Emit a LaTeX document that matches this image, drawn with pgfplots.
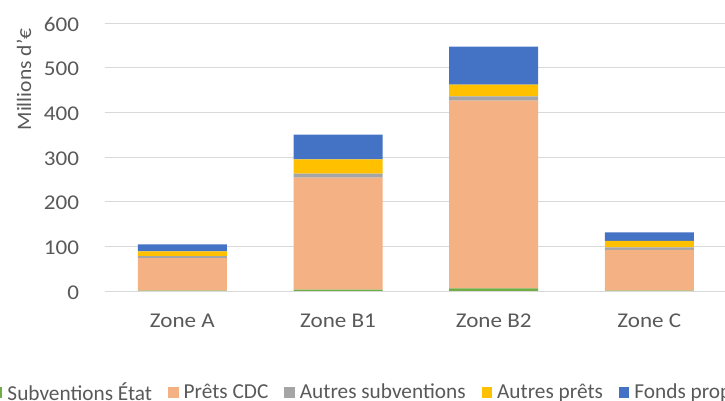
\documentclass[border=0pt]{standalone}
\usepackage{pgfplots}
\pgfplotsset{compat=1.18}
\usepackage{fontspec}
\setmainfont{Carlito}
\definecolor{cgreen}{HTML}{70AD47}
\definecolor{cpink}{HTML}{F4B183}
\definecolor{cgray}{HTML}{A5A5A5}
\definecolor{cyellow}{HTML}{FFC000}
\definecolor{cblue}{HTML}{4472C4}
\definecolor{ctext}{HTML}{595959}
\definecolor{cgrid}{HTML}{D9D9D9}
\begin{document}
\begin{tikzpicture}[font=\fontsize{21bp}{25bp}\selectfont]
\useasboundingbox (0,0) rectangle (725bp,401bp);
\clip (0,0) rectangle (725bp,401bp);
\begin{axis}[
  at={(104.5bp,110bp)}, anchor=south west,
  scale only axis, width=622.7bp, height=268bp,
  ybar stacked, bar width=89bp,
  xmin=-0.5, xmax=3.5, ymin=0, ymax=600,
  xtick=data, xticklabels={Zone A, Zone B1, Zone B2, Zone C},
  ytick={0,100,...,600},
  axis line style={draw=none},
  major tick length=0pt,
  ymajorgrids, grid style={draw=cgrid, line width=0.9bp},
  /pgf/number format/assume math mode=true,
  tick label style={text=ctext, font=\fontsize{21bp}{25bp}\selectfont, xscale=1.1},
  yticklabel style={anchor=east, inner sep=0pt, xshift=-23bp, yshift=-1.5bp},
  xticklabel style={anchor=center, inner sep=0pt, yshift=-30bp},
  legend columns=5,
  legend style={draw=none, fill=none, inner sep=0pt, outer sep=0pt,
    text=ctext, at={(-0.1807,-0.3769)}, anchor=west,
    font=\fontsize{21.3bp}{25bp}\selectfont,
    nodes={inner sep=0pt},
    /tikz/every even column/.append style={column sep=16bp},
    /tikz/every odd column/.append style={column sep=5bp}},
  legend image code/.code={\fill[#1] (0bp,-5.5bp) rectangle (10.5bp,5bp);},
  legend cell align=left,
]
\addplot[fill=cgreen, draw=none] coordinates {(0,1) (1,3) (2,6) (3,1)};
\addplot[fill=cpink, draw=none] coordinates {(0,72.5) (1,251) (2,420) (3,91)};
\addplot[fill=cgray, draw=none] coordinates {(0,4.5) (1,9) (2,10) (3,5.5)};
\addplot[fill=cyellow, draw=none] coordinates {(0,10.6) (1,31.5) (2,26) (3,15)};
\addplot[fill=cblue, draw=none] coordinates {(0,15.7) (1,55.5) (2,85) (3,18.6)};
\legend{Subventions État, Prêts CDC, Autres subventions, Autres prêts, Fonds propres}
\end{axis}
\node[rotate=90, text=ctext, anchor=center, inner sep=0pt, font=\fontsize{20.5bp}{24bp}\selectfont, xscale=1.05] at (24bp,321.5bp) {Millions d'€};
\end{tikzpicture}
\end{document}
